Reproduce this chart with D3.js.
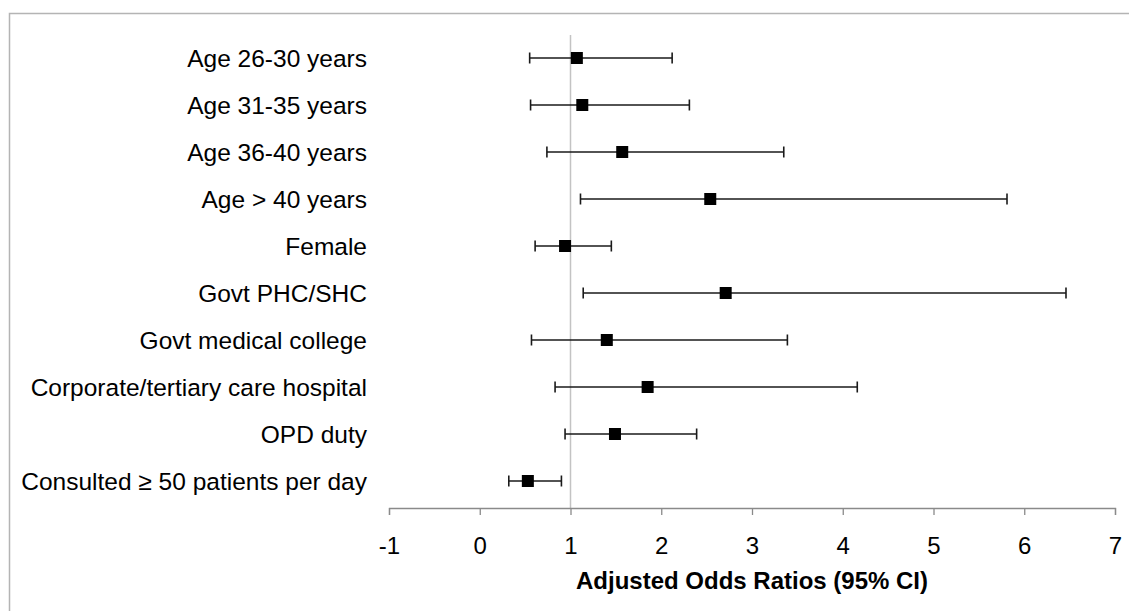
<!DOCTYPE html>
<html>
<head>
<meta charset="utf-8">
<script src="https://cdn.jsdelivr.net/npm/d3@7"></script>
<style>
    body { margin: 0; background: #fff; }
    svg { display: block; font-family: "Liberation Sans", Arial, sans-serif; }
</style>
</head>
<body>
<div class="forest"><svg></svg></div>
<script>
// values
let categories = ["Age 26-30 years", "Age 31-35 years", "Age 36-40 years", "Age > 40 years",
    "Female", "Govt PHC/SHC", "Govt medical college", "Corporate/tertiary care hospital",
    "OPD duty", "Consulted \u2265 50 patients per day"];
let oddsRatio = [1.07, 1.13, 1.57, 2.54, 0.94, 2.71, 1.40, 1.85, 1.49, 0.53];
let ciLower   = [0.55, 0.56, 0.74, 1.11, 0.61, 1.14, 0.57, 0.83, 0.94, 0.32];
let ciUpper   = [2.12, 2.31, 3.35, 5.81, 1.45, 6.46, 3.39, 4.16, 2.39, 0.90];
let xTicks    = [-1, 0, 1, 2, 3, 4, 5, 6, 7];

let width = 1129, height = 611;

var svg = d3.select(".forest").select("svg")
    .attr("width", width)
    .attr("height", height);

let rows = categories.map(function(c, i) {
    return { name: c, or: oddsRatio[i], lo: ciLower[i], hi: ciUpper[i] };
});

// frame (top and left edge only)
svg.append("path")
    .attr("d", "M9.5,611 V13.5 H1129")
    .attr("fill", "none")
    .attr("stroke", "#b4b4b4")
    .attr("stroke-width", 1.5);

//Scale
var xScale = d3.scaleLinear()
    .domain([-1, 7])
    .range([389, 1115]);

var yScale = d3.scaleBand()
    .domain(categories)
    .range([34.5, 504.5]);

let axisY = 508;

// reference line at OR = 1
svg.append("line")
    .attr("x1", xScale(1)).attr("x2", xScale(1))
    .attr("y1", 35).attr("y2", axisY)
    .attr("stroke", "#c3c3c3")
    .attr("stroke-width", 1.5);

//Axis
let xAxis = d3.axisBottom()
    .scale(xScale)
    .tickValues(xTicks)
    .tickSize(7)
    .tickPadding(16)
    .tickFormat(function(d) { return String(d); });

let gx = svg.append("g")
    .attr("transform", "translate(0," + axisY + ")")
    .call(xAxis);
gx.select(".domain").attr("stroke", "#8a8a8a").attr("stroke-width", 1.3);
gx.selectAll(".tick line").attr("stroke", "#8a8a8a").attr("stroke-width", 1.3);
gx.selectAll(".tick text")
    .attr("font-size", "24px")
    .attr("font-family", "Liberation Sans, Arial, sans-serif")
    .attr("fill", "#000")
    .attr("dy", "0.95em");

svg.append("text")
    .attr("x", (xScale(-1) + xScale(7)) / 2)
    .attr("y", 589)
    .attr("text-anchor", "middle")
    .attr("font-size", "24px")
    .attr("font-weight", "bold")
    .text("Adjusted Odds Ratios (95% CI)");

// category labels
svg.selectAll(".label")
    .data(rows)
    .enter()
    .append("text")
    .attr("class", "label")
    .attr("x", 367)
    .attr("y", function(d) { return yScale(d.name) + yScale.bandwidth() / 2; })
    .attr("dy", "0.35em")
    .attr("text-anchor", "end")
    .attr("font-size", "24.5px")
    .attr("fill", "#000")
    .text(function(d) { return d.name; });

// confidence intervals
let capH = 5.5;
let ci = svg.selectAll(".ci")
    .data(rows)
    .enter()
    .append("g")
    .attr("class", "ci")
    .attr("transform", function(d) { return "translate(0," + (yScale(d.name) + yScale.bandwidth() / 2) + ")"; })
    .attr("stroke", "#1a1a1a")
    .attr("stroke-width", 1.6);

ci.append("line")
    .attr("x1", function(d) { return xScale(d.lo); })
    .attr("x2", function(d) { return xScale(d.hi); });
ci.append("line")
    .attr("x1", function(d) { return xScale(d.lo); })
    .attr("x2", function(d) { return xScale(d.lo); })
    .attr("y1", -capH).attr("y2", capH);
ci.append("line")
    .attr("x1", function(d) { return xScale(d.hi); })
    .attr("x2", function(d) { return xScale(d.hi); })
    .attr("y1", -capH).attr("y2", capH);

// point estimates
let sq = 12;
svg.selectAll(".point")
    .data(rows)
    .enter()
    .append("rect")
    .attr("class", "point")
    .attr("x", function(d) { return xScale(d.or) - sq / 2; })
    .attr("y", function(d) { return yScale(d.name) + yScale.bandwidth() / 2 - sq / 2; })
    .attr("width", sq)
    .attr("height", sq)
    .attr("fill", "#000");
</script>
</body>
</html>
